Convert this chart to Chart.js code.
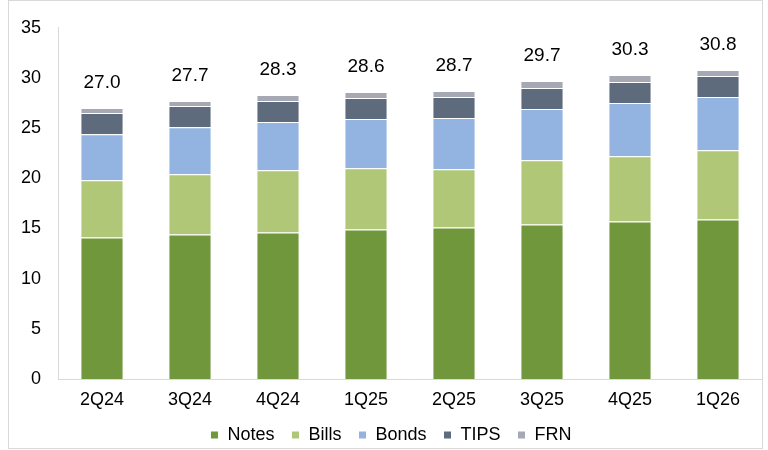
<!DOCTYPE html>
<html>
<head>
<meta charset="utf-8">
<script src="https://cdn.jsdelivr.net/npm/chart.js@4.4.1/dist/chart.umd.min.js"></script>
<style>
  body { margin: 0; background: #fff; }
  .wrap { position: relative; width: 768px; height: 450px; }
  .frame {
    position: absolute; left: 8px; top: 0; width: 753px; height: 447px;
    border: 1px solid #d9d9d9; pointer-events: none;
  }
</style>
</head>
<body>
<div class="wrap">
  <canvas id="chart" width="768" height="450"></canvas>
  <div class="frame"></div>
</div>
<script>
const quarters = ["2Q24", "3Q24", "4Q24", "1Q25", "2Q25", "3Q25", "4Q25", "1Q26"];
const notes = [14.1, 14.4, 14.6, 14.9, 15.1, 15.4, 15.7, 15.9];
const bills = [5.7, 6.0, 6.2, 6.1, 5.8, 6.4, 6.5, 6.9];
const bonds = [4.6, 4.7, 4.8, 4.9, 5.1, 5.1, 5.3, 5.3];
const tips = [2.1, 2.1, 2.1, 2.1, 2.1, 2.1, 2.1, 2.1];
const frn = [0.5, 0.5, 0.6, 0.6, 0.6, 0.7, 0.7, 0.6];
const totals = ["27.0", "27.7", "28.3", "28.6", "28.7", "29.7", "30.3", "30.8"];

const FONT = "'Liberation Sans', Arial, sans-serif";
Chart.defaults.font.family = FONT;
Chart.defaults.color = "#000";

// total above each stacked column
const totalLabels = {
  id: "totalLabels",
  afterDatasetsDraw(chart) {
    const ctx = chart.ctx;
    const last = chart.getDatasetMeta(chart.data.datasets.length - 1);
    ctx.save();
    ctx.font = "19px " + FONT;
    ctx.fillStyle = "#000";
    ctx.textAlign = "center";
    ctx.textBaseline = "middle";
    last.data.forEach((bar, i) => {
      ctx.fillText(totals[i], bar.x, bar.y - 25);
    });
    ctx.restore();
  },
};

function series(label, data, color) {
  return {
    label: label,
    data: data,
    backgroundColor: color,
    borderColor: "#fff",
    borderWidth: 1,
    categoryPercentage: 0.49,
    barPercentage: 1,
  };
}

new Chart(document.getElementById("chart"), {
  type: "bar",
  data: {
    labels: quarters,
    datasets: [
      series("Notes", notes, "#71973d"),
      series("Bills", bills, "#afc777"),
      series("Bonds", bonds, "#93b4e0"),
      series("TIPS", tips, "#5e6b7d"),
      series("FRN", frn, "#a6a8b4"),
    ],
  },
  options: {
    responsive: false,
    animation: false,
    layout: { padding: { left: 20, right: 6, top: 27, bottom: -4 } },
    scales: {
      x: {
        stacked: true,
        grid: { display: false, drawTicks: false },
        border: { display: true, color: "#d9d9d9" },
        ticks: { padding: 12, font: { size: 18, lineHeight: 1 }, color: "#000" },
        afterFit: (s) => { s.height = 30; },
      },
      y: {
        stacked: true,
        min: 0,
        max: 35,
        grid: { display: false, drawTicks: false },
        border: { display: true, color: "#d9d9d9" },
        ticks: { stepSize: 5, padding: 17, font: { size: 18 }, color: "#000" },
        afterFit: (s) => { s.width = 38; },
      },
    },
    plugins: {
      legend: {
        position: "bottom",
        labels: {
          boxWidth: 8,
          boxHeight: 8,
          padding: 17,
          font: { size: 18 },
          color: "#000",
        },
      },
      tooltip: { enabled: false },
    },
  },
  plugins: [totalLabels],
});
</script>
</body>
</html>
